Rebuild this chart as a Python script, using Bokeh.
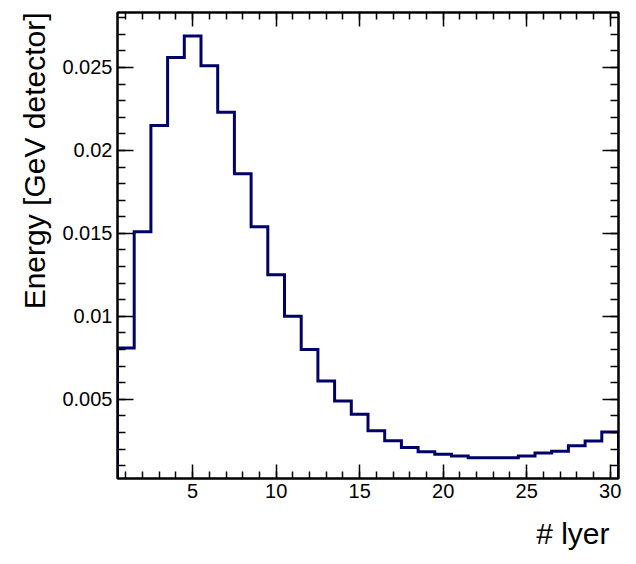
import numpy as np
from bokeh.plotting import figure
from bokeh.models import (Range1d, SingleIntervalTicker, LinearAxis, Title,
                          CustomJSTickFormatter)
from bokeh.embed import file_html
from bokeh.resources import INLINE

# ---- data ----
layers = list(range(1, 31))
energy = [0.0081, 0.0151, 0.0215, 0.0256, 0.0269, 0.0251, 0.0223, 0.0186,
          0.0154, 0.0125, 0.0100, 0.0080, 0.0061, 0.0049, 0.0041, 0.0031,
          0.0025, 0.0021, 0.00184, 0.00169, 0.00159, 0.00148, 0.00148,
          0.00148, 0.00159, 0.00177, 0.00187, 0.00221, 0.00249, 0.00303]
bin_width = 1.0
x_title = "# lyer"
y_title = "Energy [GeV detector]"

x_lo, x_hi = 0.5, 30.5
y_lo, y_hi = 0.00023, 0.02831

FONT = "Liberation Sans"
LINE_COLOR = "#000068"

p = figure(width=636, height=564, output_backend="svg", toolbar_location=None,
           x_range=Range1d(x_lo, x_hi), y_range=Range1d(y_lo, y_hi),
           min_border_left=117, min_border_right=18, min_border_top=12,
           min_border_bottom=86, x_axis_type=None, y_axis_type=None)
p.grid.visible = False
p.outline_line_color = "black"
p.outline_line_width = 2
p.background_fill_color = "white"
p.border_fill_color = "white"

# step outline of histogram
centers = np.array(layers, dtype=float)
vals = np.array(energy, dtype=float)
lo = centers - bin_width / 2
hi = centers + bin_width / 2
xs = np.concatenate([[lo[0]], np.column_stack([lo, hi]).ravel(), [hi[-1]]])
ys = np.concatenate([[0.0], np.column_stack([vals, vals]).ravel(), [0.0]])
p.line(xs, ys, line_color=LINE_COLOR, line_width=3, line_join="miter")

yfmt = CustomJSTickFormatter(code="return String(Number(tick.toFixed(4)));")


def style_axis(ax, major_len, minor_len, show_labels):
    ax.axis_line_color = "black"
    ax.axis_line_width = 2
    ax.major_tick_in = major_len
    ax.major_tick_out = 0
    ax.minor_tick_in = minor_len
    ax.minor_tick_out = 0
    ax.major_tick_line_color = "black"
    ax.major_tick_line_width = 1.5
    ax.minor_tick_line_color = "black"
    ax.minor_tick_line_width = 1.5
    if show_labels:
        ax.major_label_text_font = FONT
        ax.major_label_text_font_size = "20px"
        ax.major_label_text_color = "black"
    else:
        ax.major_label_text_font_size = "0px"
        ax.major_label_text_alpha = 0
        ax.major_label_standoff = 0


bottom = LinearAxis(ticker=SingleIntervalTicker(interval=5, num_minor_ticks=5))
style_axis(bottom, 14, 7, True)
bottom.major_label_standoff = 5
p.add_layout(bottom, "below")

top = LinearAxis(ticker=SingleIntervalTicker(interval=5, num_minor_ticks=5))
style_axis(top, 14, 7, False)
p.add_layout(top, "above")

left = LinearAxis(ticker=SingleIntervalTicker(interval=0.005, num_minor_ticks=5),
                  formatter=yfmt)
style_axis(left, 16, 8, True)
left.major_label_standoff = 5
p.add_layout(left, "left")

right = LinearAxis(ticker=SingleIntervalTicker(interval=0.005, num_minor_ticks=5),
                   formatter=yfmt)
style_axis(right, 16, 8, False)
p.add_layout(right, "right")

# axis titles (ROOT style: aligned at the end of the axes)
p.add_layout(Title(text=x_title, align="right", offset=9, standoff=29,
                   text_font=FONT, text_font_size="30px",
                   text_font_style="normal", text_color="black"), "below")
p.add_layout(Title(text=y_title, align="right", offset=0, standoff=17,
                   text_font=FONT, text_font_size="30px",
                   text_font_style="normal", text_color="black"), "left")

open("out.html", "w").write(file_html(p, INLINE))
